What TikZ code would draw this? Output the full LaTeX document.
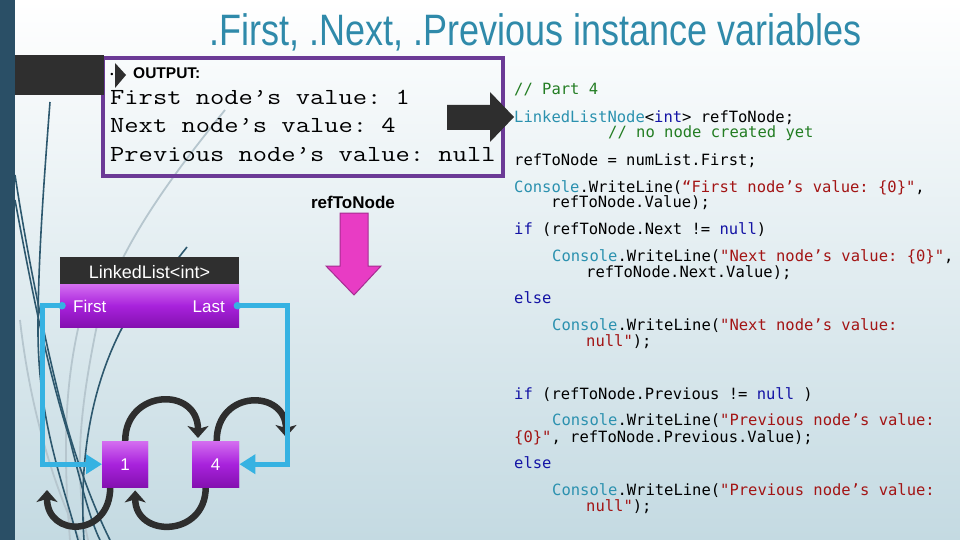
\documentclass[tikz,border=0pt]{standalone}
\usepackage{fontspec}
\usepackage{graphicx}
\setmainfont{Liberation Sans}
\newfontfamily\codefont{DejaVu Sans Mono}
\usetikzlibrary{arrows.meta}
\frenchspacing
\definecolor{cBg}{RGB}{196,218,226}
\definecolor{cBar}{RGB}{42,79,102}
\definecolor{cTab}{RGB}{47,47,47}
\definecolor{cTitle}{RGB}{47,138,170}
\definecolor{cPurple}{RGB}{107,58,150}
\definecolor{cTeal}{RGB}{43,145,175}
\definecolor{cKey}{RGB}{20,20,165}
\definecolor{cGreen}{RGB}{35,125,35}
\definecolor{cStr}{RGB}{163,21,21}
\definecolor{cBlue}{RGB}{54,178,226}
\definecolor{cDark}{RGB}{46,46,46}
\definecolor{cPinkF}{RGB}{232,60,196}
\definecolor{cPinkD}{RGB}{165,45,145}
\definecolor{cBoxT}{RGB}{212,110,240}
\definecolor{cBoxM}{RGB}{168,34,220}
\definecolor{cBoxB}{RGB}{132,16,176}
\definecolor{cDecoD}{RGB}{45,88,110}
\definecolor{cDecoL}{RGB}{182,198,206}
\newcommand\kwT[1]{\textcolor{cTeal}{#1}}
\newcommand\kwB[1]{\textcolor{cKey}{#1}}
\newcommand\kwG[1]{\textcolor{cGreen}{#1}}
\newcommand\kwR[1]{\textcolor{cStr}{#1}}
\newcommand\outline[1]{\scalebox{1.205}[1]{\ttfamily\frenchspacing\fontsize{23}{23}\selectfont #1}}
\begin{document}
\begin{tikzpicture}[x=1pt,y=-1pt,
  code/.style={anchor=base west,inner sep=0pt,font=\codefont\frenchspacing\fontsize{15.5}{15.5}\selectfont},
  outtxt/.style={anchor=base west,inner sep=0pt},
  purplebox/.style={draw=none,top color=cBoxT,bottom color=cBoxB,middle color=cBoxM,inner sep=0pt,text=white,font=\fontsize{17}{17}\selectfont},
  blueconn/.style={draw=cBlue,line width=5pt,-{Triangle[width=19pt,length=16pt]}},
  looparrow/.style={draw=cDark,line width=6.5pt,-{Stealth[width=21pt,length=12pt,inset=3pt]}},
  decod/.style={draw=cDecoD,line width=1.6pt},
  decol/.style={draw=cDecoL,line width=1.8pt},
  lbl/.style={inner sep=0pt,text=white,font=\fontsize{17}{17}\selectfont}]
\useasboundingbox (0,0) rectangle (960,540);
\shade[top color=white,bottom color=cBg] (0,0) rectangle (960,540);
% decorative swirls
\draw[decol] (225,110) .. controls (160,190) and (112,260) .. (96,330) .. controls (82,400) and (72,470) .. (88,540);
\draw[decol] (20,320) .. controls (30,410) and (55,490) .. (80,540);
\draw[decol] (80,320) .. controls (66,380) and (62,440) .. (70,540);
\draw[decod] (50,102) .. controls (44,180) and (38,260) .. (38,330) .. controls (38,420) and (62,480) .. (78,540);
\draw[decod] (15,175) .. controls (25,240) and (40,320) .. (60,400) .. controls (75,460) and (95,510) .. (110,540);
\draw[decod] (15,200) .. controls (30,280) and (45,360) .. (70,440) .. controls (80,480) and (90,520) .. (100,540);
\draw[decod] (187,247) .. controls (165,275) and (140,305) .. (122,328) .. controls (95,380) and (78,450) .. (84,540);
% left bar
\fill[cBar] (0,0) rectangle (15,540);
% title
\node[anchor=base,inner sep=0pt,text=cTitle] (title) at (536,46)
  {\resizebox{652pt}{\height}{\fontsize{44}{44}\selectfont .First, .Next, .Previous instance variables}};
% output box
\node[draw=cPurple,line width=3.5pt,minimum width=400pt,minimum height=118pt,inner sep=0pt] (outbox) at (303,117) {};
\fill[cTab] (15,55) rectangle (104,95);
\fill[cTab] (115,63) -- (126,75) -- (115,88) -- cycle;
\node[inner sep=0pt,font=\fontsize{9}{9}\selectfont] (bullet) at (112,75) {\textbullet};
\node[outtxt,font=\bfseries\fontsize{15.5}{15.5}\selectfont] (outhdr) at (133,79) {OUTPUT:};
\node[outtxt] (out1) at (110,105) {\outline{First node’s value: 1}};
\node[outtxt] (out2) at (110,133) {\outline{Next node’s value: 4}};
\node[outtxt] (out3) at (110,161) {\outline{Previous node’s value: null}};
% dark block arrow
\fill[cDark] (447,105) -- (490,105) -- (490,92) -- (514,117) -- (490,142) -- (490,130) -- (447,130) -- cycle;
% code
\node[code] (c1) at (514,95) {\kwG{// Part 4}};
\node[code] (c2) at (514,123) {\kwT{LinkedListNode}<\kwB{int}> refToNode;};
\node[code] (c3) at (608,138) {\kwG{// no node created yet}};
\node[code] (c4) at (514,165) {refToNode = numList.First;};
\node[code] (c5) at (514,192) {\kwT{Console}.WriteLine(\kwR{“First node’s value: \{0\}"},};
\node[code] (c6) at (551,207) {refToNode.Value);};
\node[code] (c7) at (514,234) {\kwB{if} (refToNode.Next != \kwB{null})};
\node[code] (c8) at (552,261) {\kwT{Console}.WriteLine(\kwR{"Next node’s value: \{0\}"},};
\node[code] (c9) at (586,277) {refToNode.Next.Value);};
\node[code] (c10) at (514,303) {\kwB{else}};
\node[code] (c11) at (552,330) {\kwT{Console}.WriteLine(\kwR{"Next node’s value:}};
\node[code] (c12) at (586,346) {\kwR{null"});};
\node[code] (c13) at (514,399) {\kwB{if} (refToNode.Previous != \kwB{null} )};
\node[code] (c14) at (552,425) {\kwT{Console}.WriteLine(\kwR{"Previous node’s value:}};
\node[code] (c15) at (514,442) {\kwR{\{0\}"}, refToNode.Previous.Value);};
\node[code] (c16) at (514,468) {\kwB{else}};
\node[code] (c17) at (552,495) {\kwT{Console}.WriteLine(\kwR{"Previous node’s value:}};
\node[code] (c18) at (586,511) {\kwR{null"});};
% pointer arrow
\node[inner sep=0pt,font=\bfseries\fontsize{17}{17}\selectfont] (ptrlbl) at (353,208) [anchor=base] {refToNode};
\filldraw[fill=cPinkF,draw=cPinkD,line width=1pt] (340,213) -- (368,213) -- (368,266) -- (381,266) -- (354,295) -- (326,266) -- (340,266) -- cycle;
% linked list object
\node[fill=cTab,minimum width=179pt,minimum height=27pt,inner sep=0pt,anchor=north west] (llhead) at (60,257) {};
\node[lbl,font=\fontsize{18}{18}\selectfont,anchor=base] (lltitle) at (149.5,278) {LinkedList<int>};
\node[purplebox,minimum width=179pt,minimum height=43pt,anchor=north west] (llbody) at (60,284) {};
\node[lbl,anchor=base west] (firstlbl) at (73,312) {First};
\node[lbl,anchor=base east] (lastlbl) at (225,312) {Last};
% loop arrows (next / previous)
\coordinate (nullR) at (286,437);
\coordinate (nullL) at (47,490);
\node[purplebox,minimum width=46pt,minimum height=46pt,anchor=north west] (n1) at (102,441) {};
\node[purplebox,minimum width=47pt,minimum height=46pt,anchor=north west] (n4) at (192,441) {};
\draw[looparrow] (n1.north) .. controls +(0,-52) and +(0,-52) .. ([shift={(6,-3)}]n4.north west);
\draw[looparrow] ([shift={(1,0)}]n4.north) .. controls +(0,-52) and +(0,-48) .. (nullR);
\draw[looparrow] ([shift={(-10,0)}]n4.south) .. controls +(0,50) and +(0,48) .. ([shift={(10,3)}]n1.south);
\draw[looparrow] ([shift={(-15,0)}]n1.south) .. controls +(0,50) and +(0,48) .. (nullL);
\node[purplebox,minimum width=46pt,minimum height=46pt,anchor=north west] (n1b) at (102,441) {1};
\node[purplebox,minimum width=47pt,minimum height=46pt,anchor=north west] (n4b) at (192,441) {4};
% reference connectors
\coordinate (fport) at ([shift={(2,0)}]llbody.west);
\coordinate (lport) at ([shift={(-2,0)}]llbody.east);
\fill[cBlue] (fport) circle (3.8pt);
\fill[cBlue] (lport) circle (3.8pt);
\draw[blueconn] (fport) -- ++(-20,0) |- (n1b.west);
\draw[blueconn] (lport) -- ++(50,0) |- (n4b.east);
\end{tikzpicture}
\end{document}
